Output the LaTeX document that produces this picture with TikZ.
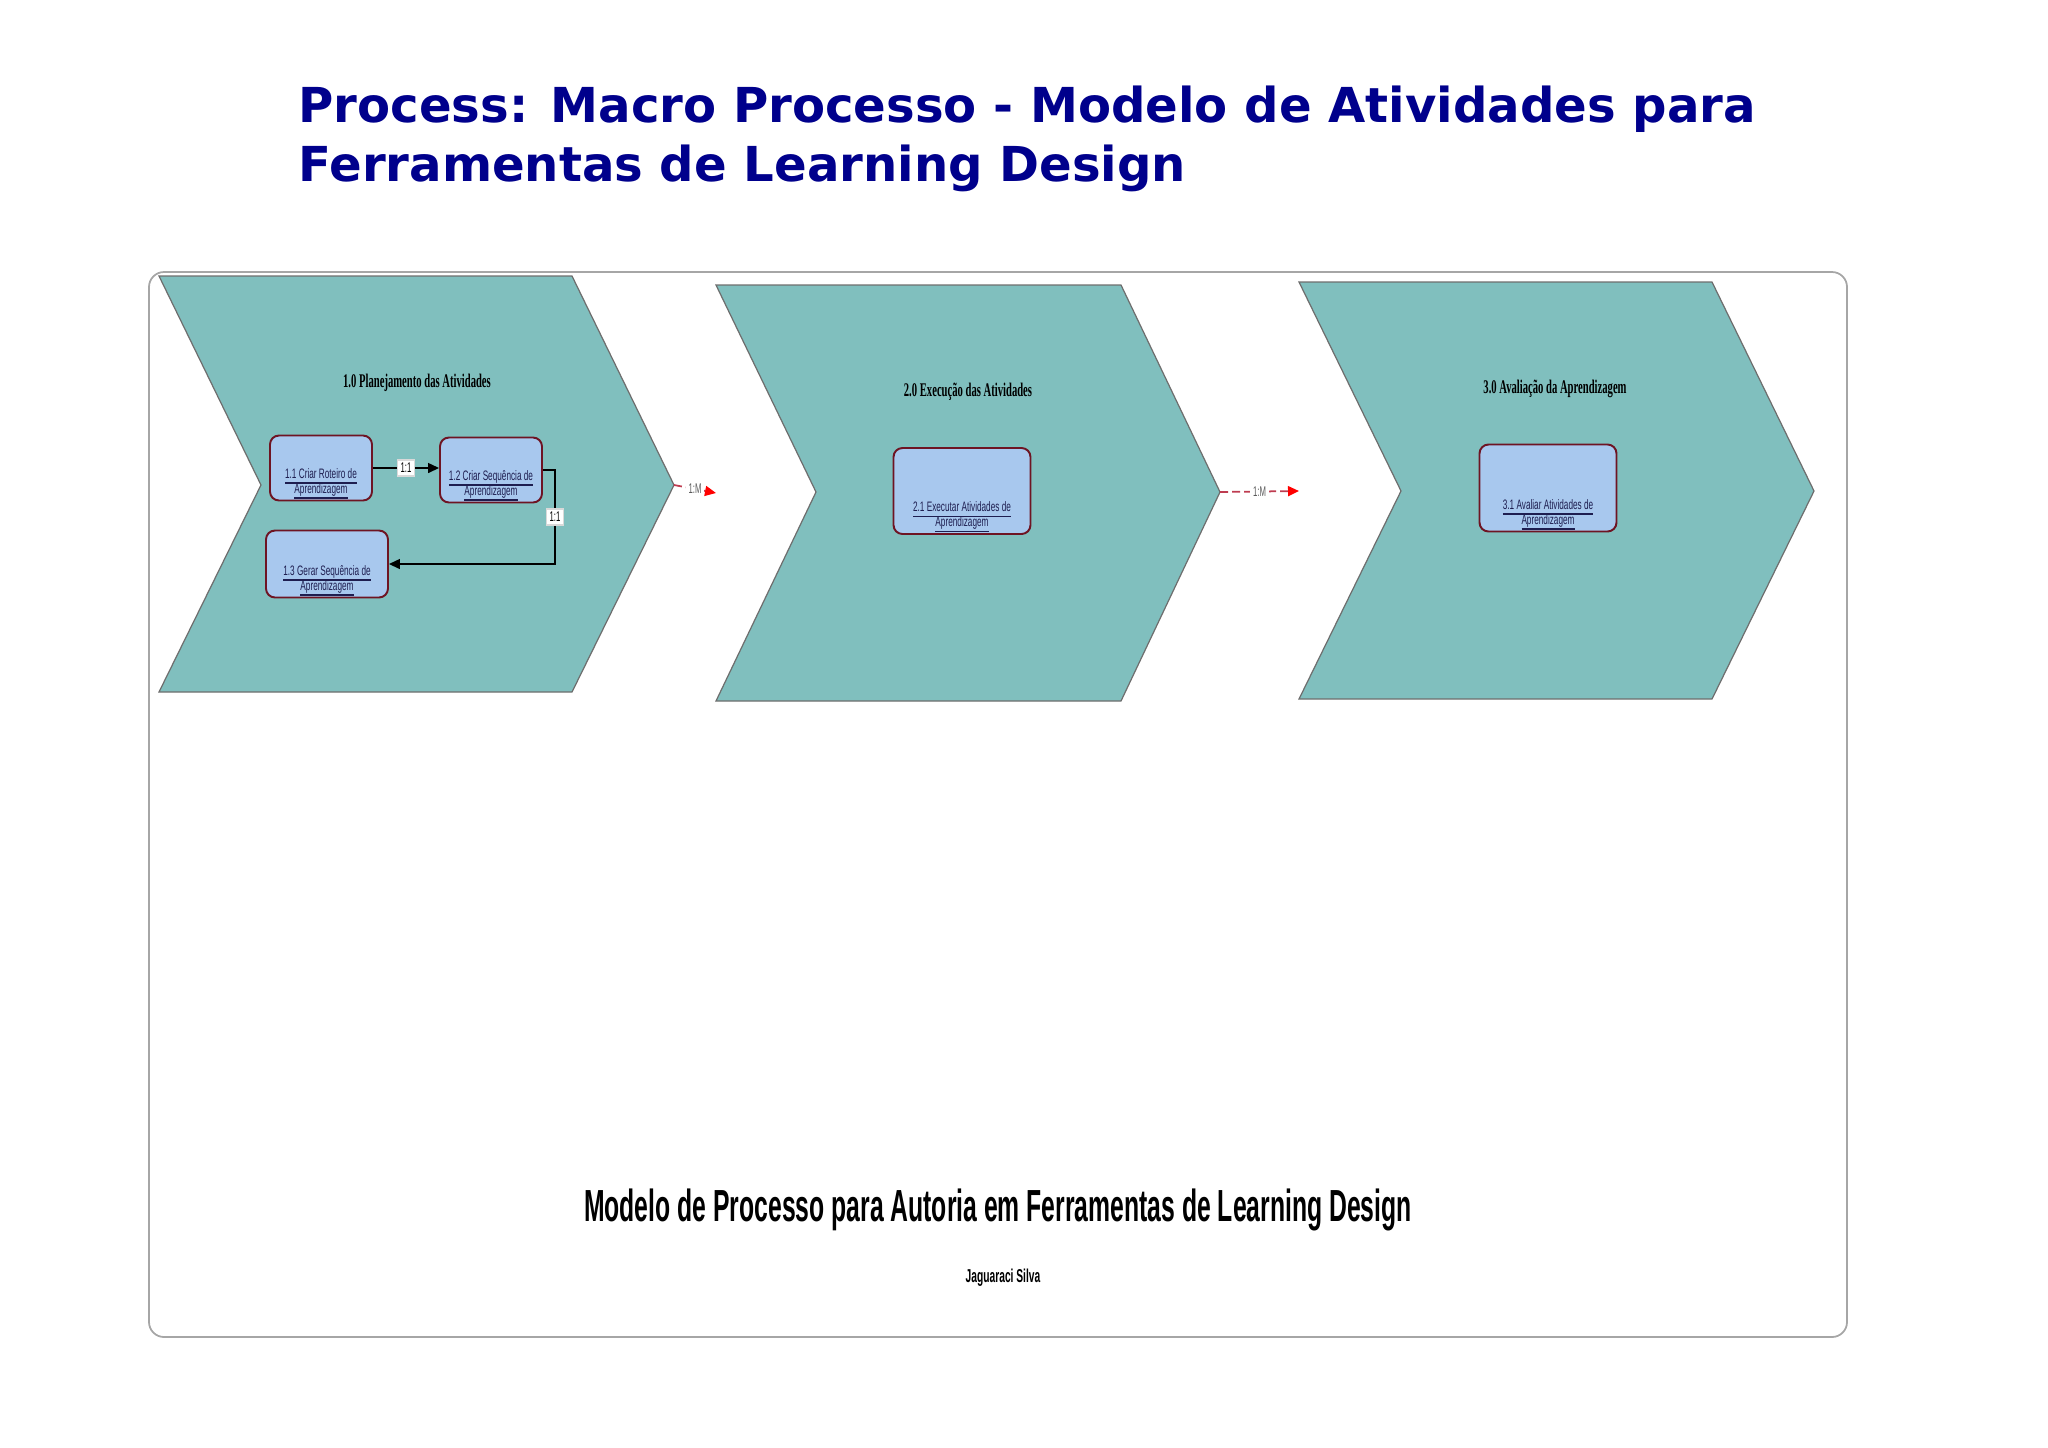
\documentclass[tikz,border=0pt]{standalone}
\usepackage{fontspec}
\usepackage{tikz}
\usetikzlibrary{arrows.meta, positioning, calc}
\newfontfamily\titlefont{DejaVu Sans}
\newfontfamily\chevfont[FakeStretch=0.55]{Liberation Serif}
\newfontfamily\boxfont[FakeStretch=0.55]{Liberation Sans}
\newfontfamily\actfont[FakeStretch=0.6]{Liberation Sans}
\definecolor{titleblue}{RGB}{0,0,140}
\definecolor{chevfill}{RGB}{128,191,190}
\definecolor{chevedge}{RGB}{110,110,110}
\definecolor{actfill}{RGB}{168,200,238}
\definecolor{actedge}{RGB}{110,20,35}
\definecolor{linktext}{RGB}{30,30,80}
\definecolor{flowred}{RGB}{190,60,80}
\setlength{\lineskiplimit}{-5pt}

\begin{document}
\begin{tikzpicture}[
    x=0.1mm, y=-0.1mm,
    chevron/.style={fill=chevfill, draw=chevedge, line width=0.35pt},
    phase/.style={font=\chevfont\bfseries\fontsize{5.5}{6}\selectfont},
    activity/.style={rectangle, rounded corners=0.9mm, draw=actedge, line width=0.55pt, fill=actfill, inner sep=0pt},
    acttext/.style={anchor=south, yshift=0.05mm, align=center, text=linktext, inner sep=0pt,
      font=\actfont\fontsize{3.9}{4.3}\selectfont},
    seq/.style={-{Triangle[length=1.1mm, width=1mm]}, line width=0.4pt},
    ratio/.style={fill=white, draw=gray!30, inner sep=0.3mm, font=\boxfont\fontsize{4}{4}\selectfont},
    msg/.style={-{Triangle[length=1.1mm, width=1mm, fill=red, color=red]}, draw=flowred, line width=0.5pt, dash pattern=on 0.8mm off 0.4mm},
    card/.style={fill=white, inner sep=0.3mm, text=gray!70!black, font=\boxfont\fontsize{4}{4}\selectfont},
]
\useasboundingbox (0,0) rectangle (2048,1447);

% Title
\node[anchor=west, align=left, text=titleblue, font=\titlefont\bfseries\fontsize{13.7}{16.8}\selectfont] (title) at (286,139)
  {Process: Macro Processo - Modelo de Atividades para\\Ferramentas de Learning Design};

% Frame
\draw[gray!70, line width=0.5pt, rounded corners=1.5mm] (149,272) rectangle (1847,1337);

% Chevrons
\draw[chevron] (159,276) -- (572,276) -- (674,485) coordinate (c1tip) -- (572,692) -- (159,692) -- (261,485) -- cycle;
\draw[chevron] (716,285) -- (1121,285) -- (1220,492) coordinate (c2tip) -- (1121,701) -- (716,701) -- (816,492) -- cycle;
\draw[chevron] (1299,282) -- (1712,282) -- (1814,491) -- (1712,699) -- (1299,699) -- (1401,491) -- cycle;
\coordinate (c2in) at (716,493);
\coordinate (c3in) at (1299,491);

\node[phase] (p1) at (417,383) {1.0 Planejamento das Atividades};
\node[phase] (p2) at (968,392) {2.0 Execução das Atividades};
\node[phase] (p3) at (1555,389) {3.0 Avaliação da Aprendizagem};

% Activities
\node[activity, minimum width=10.2mm, minimum height=6.5mm,
  label={[acttext]south:{\underline{\smash{1.1 Criar Roteiro de}}\\\underline{\smash{Aprendizagem}}}}] (b11) at (321,468) {};
\node[activity, minimum width=10.2mm, minimum height=6.5mm,
  label={[acttext]south:{\underline{\smash{1.2 Criar Sequência de}}\\\underline{\smash{Aprendizagem}}}}] (b12) at (491,470) {};
\node[activity, minimum width=12.2mm, minimum height=6.7mm,
  label={[acttext]south:{\underline{\smash{1.3 Gerar Sequência de}}\\\underline{\smash{Aprendizagem}}}}] (b13) at (327,564) {};
\node[activity, minimum width=13.7mm, minimum height=8.6mm,
  label={[acttext]south:{\underline{\smash{2.1 Executar Atividades de}}\\\underline{\smash{Aprendizagem}}}}] (b21) at (962,491) {};
\node[activity, minimum width=13.7mm, minimum height=8.7mm,
  label={[acttext]south:{\underline{\smash{3.1 Avaliar Atividades de}}\\\underline{\smash{Aprendizagem}}}}] (b31) at (1548,488) {};

% Arcs/Paths
\draw[seq] (b11.east) -- node[ratio] {1:1} (b11.east -| b12.west);
\draw[seq] (b12.east) -- ++(12,0) |- node[ratio, pos=0.25] {1:1} (b13.east);
\draw[msg] (c1tip) -- node[card] {1:M} (c2in);
\draw[msg] (c2tip) -- node[card] {1:M} (c3in);

% Footer
\node[font=\boxfont\bfseries\fontsize{12.8}{14}\selectfont] (model) at (998,1210) {Modelo de Processo para Autoria em Ferramentas de Learning Design};
\node[font=\boxfont\bfseries\fontsize{5.3}{6}\selectfont] (author) at (1003,1278) {Jaguaraci Silva};
\end{tikzpicture}
\end{document}
